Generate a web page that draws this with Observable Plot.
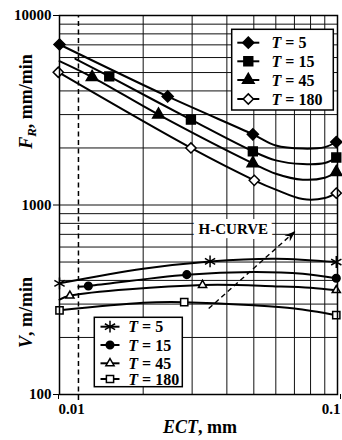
<!DOCTYPE html>
<html>
<head>
<meta charset="utf-8">
<script src="https://cdn.jsdelivr.net/npm/d3@7"></script>
<script src="https://cdn.jsdelivr.net/npm/@observablehq/plot@0.6"></script>
<style>
html,body{margin:0;padding:0;background:#fff;}
#chart svg{display:block;}
</style>
</head>
<body>
<div id="chart"></div>
<script>
const SERIF = "'Liberation Serif','Times New Roman',Times,serif";

// ---- axes / grid ----
const xTickValues = [0.01, 0.1];
const yTickValues = [100, 1000, 10000];
const xGridValues = [0.02, 0.03, 0.04, 0.05, 0.06, 0.07, 0.08, 0.09];
const yGridValues = [200, 300, 400, 500, 600, 700, 800, 900, 1000, 2000, 3000, 4000, 5000, 6000, 7000, 8000, 9000];
const dashedEct = [0.0117];
const dashedSpan = [93, 10000];
const seriesT = ["5", "15", "45", "180"];

// ---- F_R, mm/min : measured markers ----
const fr5X = [0.01, 0.0245, 0.0496, 0.099];
const fr5Y = [7030, 3740, 2360, 2150];
const fr15X = [0.0151, 0.0297, 0.0496, 0.099];
const fr15Y = [4770, 2820, 1920, 1780];
const fr45X = [0.0131, 0.0227, 0.0496, 0.099];
const fr45Y = [4730, 3000, 1660, 1490];
const fr180X = [0.0099, 0.0297, 0.0502, 0.099];
const fr180Y = [5020, 2000, 1350, 1155];

// ---- F_R fitted curves ----
const fr5LineX = [0.01, 0.0245, 0.0496, 0.06, 0.075, 0.09, 0.099];
const fr5LineY = [7030, 3740, 2360, 2060, 1985, 2020, 2150];
const fr15LineX = [0.0114, 0.0151, 0.0297, 0.0496, 0.06, 0.075, 0.09, 0.099];
const fr15LineY = [5910, 4770, 2820, 1920, 1720, 1645, 1665, 1780];
const fr45LineX = [0.01, 0.0131, 0.0227, 0.0496, 0.06, 0.075, 0.09, 0.099];
const fr45LineY = [5740, 4730, 3000, 1660, 1463, 1360, 1393, 1490];
const fr180LineX = [0.0099, 0.0297, 0.0502, 0.06, 0.075, 0.09, 0.099];
const fr180LineY = [5020, 2000, 1350, 1205, 1075, 1088, 1155];

// ---- V, m/min : measured markers ----
const v5X = [0.01, 0.0348, 0.099];
const v5Y = [386, 504, 500];
const v15X = [0.0127, 0.0287, 0.099];
const v15Y = [374, 429, 411];
const v45X = [0.0109, 0.0327, 0.099];
const v45Y = [332, 378, 355];
const v180X = [0.01, 0.0281, 0.099];
const v180Y = [278, 307, 262];

// ---- V fitted curves ----
const v5LineX = [0.01, 0.02, 0.0348, 0.06, 0.099];
const v5LineY = [386, 461, 504, 521, 500];
const v15LineX = [0.0117, 0.0127, 0.0287, 0.05, 0.075, 0.099];
const v15LineY = [370, 374, 429, 443, 434, 411];
const v45LineX = [0.01, 0.0109, 0.0327, 0.06, 0.08, 0.099];
const v45LineY = [317, 332, 378, 372, 366, 355];
const v180LineX = [0.01, 0.02, 0.0281, 0.05, 0.07, 0.099];
const v180LineY = [278, 305, 307, 295.5, 284, 262];

// ---- H-curve annotation ----
const hLabel = ["H-CURVE"];
const hLabelX = [0.0422];
const hLabelY = [743];
const hArrowX = [0.0344, 0.0705];
const hArrowY = [284, 728];

const pts = (xs, ys) => xs.map((x, i) => ({x, y: ys[i]}));

const arrowHead = {
  draw(ctx) {
    ctx.moveTo(0, 0);
    ctx.lineTo(4, 11);
    ctx.lineTo(0, 7.5);
    ctx.lineTo(-4, 11);
    ctx.closePath();
  }
};

const lineOpts = {x: "x", y: "y", curve: "catmull-rom", stroke: "black", strokeWidth: 2};

const frSym = [
  {sym: "diamond2", r: 5, fill: "black"},
  {sym: "square", r: 5, fill: "black"},
  {sym: "triangle", r: 4.3, fill: "black"},
  {sym: "diamond2", r: 4.6, fill: "white"}
];
const vSym = [
  {sym: "asterisk", r: 5.6, fill: "none"},
  {sym: "circle", r: 3.8, fill: "black"},
  {sym: "triangle2", r: 3.9, fill: "white"},
  {sym: "square2", r: 4.6, fill: "white"}
];
const dotOpts = (s) => ({x: "x", y: "y", symbol: s.sym, r: s.r, fill: s.fill, stroke: "black", strokeWidth: 1.5});

const frMarks = [[fr5X, fr5Y], [fr15X, fr15Y], [fr45X, fr45Y], [fr180X, fr180Y]];
const frLines = [[fr5LineX, fr5LineY], [fr15LineX, fr15LineY], [fr45LineX, fr45LineY], [fr180LineX, fr180LineY]];
const vMarks = [[v5X, v5Y], [v15X, v15Y], [v45X, v45Y], [v180X, v180Y]];
const vLines = [[v5LineX, v5LineY], [v15LineX, v15LineY], [v45LineX, v45LineY], [v180LineX, v180LineY]];

const plot = Plot.plot({
  width: 342,
  height: 440,
  marginLeft: 59,
  marginRight: 5,
  marginTop: 15,
  marginBottom: 46,
  style: {fontFamily: SERIF, fontWeight: "bold", fontSize: "15px", background: "white", color: "black"},
  x: {type: "log", domain: [0.01, 0.1], label: null},
  y: {type: "log", domain: [100, 10000], label: null},
  marks: [
    Plot.gridX(xGridValues, {stroke: "#111", strokeOpacity: 1, strokeWidth: 1}),
    Plot.gridY(yGridValues, {stroke: "#111", strokeOpacity: 1, strokeWidth: 1}),
    Plot.ruleX(dashedEct, {y1: dashedSpan[0], y2: dashedSpan[1], stroke: "black", strokeWidth: 1.5, strokeDasharray: "5,3.5"}),
    Plot.link([0], {x1: () => hArrowX[0], y1: () => hArrowY[0], x2: () => hArrowX[1], y2: () => hArrowY[1], stroke: "black", strokeWidth: 1.4, strokeDasharray: "5,3.5"}),
    Plot.dot([0], {x: () => hArrowX[1], y: () => hArrowY[1], symbol: arrowHead, rotate: 48, fill: "black", stroke: "none"}),
    Plot.text(hLabel, {x: () => hLabelX[0], y: () => hLabelY[0], text: d => d, fontSize: 15, fontWeight: "bold", fill: "black", stroke: "white", strokeWidth: 10, strokeLinejoin: "round"}),
    ...frLines.map(([xs, ys]) => Plot.line(pts(xs, ys), lineOpts)),
    ...vLines.map(([xs, ys]) => Plot.line(pts(xs, ys), lineOpts)),
    ...frMarks.map(([xs, ys], i) => Plot.dot(pts(xs, ys), dotOpts(frSym[i]))),
    ...vMarks.map(([xs, ys], i) => Plot.dot(pts(xs, ys), dotOpts(vSym[i]))),
    Plot.frame({stroke: "black", strokeWidth: 1.5}),
    Plot.axisY(yTickValues, {tickFormat: d => String(d), tickSize: 6, tickPadding: 2, fontSize: 15, fontWeight: "bold", label: null}),
    Plot.axisX([xTickValues[0]], {tickFormat: d => String(d), tickSize: 5, tickPadding: 4, textAnchor: "start", dx: -1, fontSize: 15, fontWeight: "bold", label: null}),
    Plot.axisX([xTickValues[1]], {tickFormat: d => String(d), tickSize: 5, tickPadding: 4, textAnchor: "end", dx: 3, fontSize: 15, fontWeight: "bold", label: null})
  ]
});

document.getElementById("chart").appendChild(plot);
const svg = d3.select(plot);

// axis titles
const xt = svg.append("text").attr("x", 200).attr("y", 432.5).attr("text-anchor", "middle")
  .attr("font-family", SERIF).attr("font-weight", "bold").attr("font-size", 18).attr("fill", "black");
xt.append("tspan").attr("font-style", "italic").text("ECT");
xt.append("tspan").text(", mm");

const fy = svg.append("text").attr("transform", "translate(32,101.5) rotate(-90)").attr("text-anchor", "middle")
  .attr("font-family", SERIF).attr("font-weight", "bold").attr("font-size", 18).attr("fill", "black");
fy.append("tspan").attr("font-style", "italic").text("F");
fy.append("tspan").attr("font-style", "italic").attr("font-size", 13).attr("dy", 4).text("R");
fy.append("tspan").attr("dy", -4).text(", mm/min");

const vy = svg.append("text").attr("transform", "translate(32,312.5) rotate(-90)").attr("text-anchor", "middle")
  .attr("font-family", SERIF).attr("font-weight", "bold").attr("font-size", 18).attr("fill", "black");
vy.append("tspan").attr("font-style", "italic").text("V");
vy.append("tspan").text(", m/min");

// legends
const symType = {diamond2: d3.symbolDiamond2, square: d3.symbolSquare, triangle: d3.symbolTriangle,
  asterisk: d3.symbolAsterisk, circle: d3.symbolCircle, triangle2: d3.symbolTriangle2, square2: d3.symbolSquare2};

function drawLegend(box, rowsY, symX, half, textX, syms) {
  const g = svg.append("g");
  g.append("rect").attr("x", box[0]).attr("y", box[1]).attr("width", box[2]).attr("height", box[3])
    .attr("fill", "white").attr("stroke", "black").attr("stroke-width", 1.5);
  seriesT.forEach((t, i) => {
    const y = rowsY[i];
    g.append("line").attr("x1", symX - half).attr("x2", symX + half).attr("y1", y).attr("y2", y)
      .attr("stroke", "black").attr("stroke-width", 2);
    const s = syms[i];
    g.append("path").attr("d", d3.symbol(symType[s.sym], Math.PI * s.r * s.r)())
      .attr("transform", `translate(${symX},${y})`)
      .attr("fill", s.fill).attr("stroke", "black").attr("stroke-width", 1.5);
    const tx = g.append("text").attr("x", textX).attr("y", y + 5.5).attr("text-anchor", "start")
      .attr("font-family", SERIF).attr("font-weight", "bold").attr("font-size", 16).attr("fill", "black");
    tx.append("tspan").attr("font-style", "italic").text("T");
    tx.append("tspan").text(" = " + t);
  });
}
drawLegend([231.7, 29.3, 101.6, 80.7], [42.7, 61.3, 80, 99], 248.3, 11, 271.5, frSym);
drawLegend([94.3, 317.3, 88, 69.4], [326.7, 345, 363.3, 379], 110, 9.5, 128.3, vSym);
</script>
</body>
</html>
